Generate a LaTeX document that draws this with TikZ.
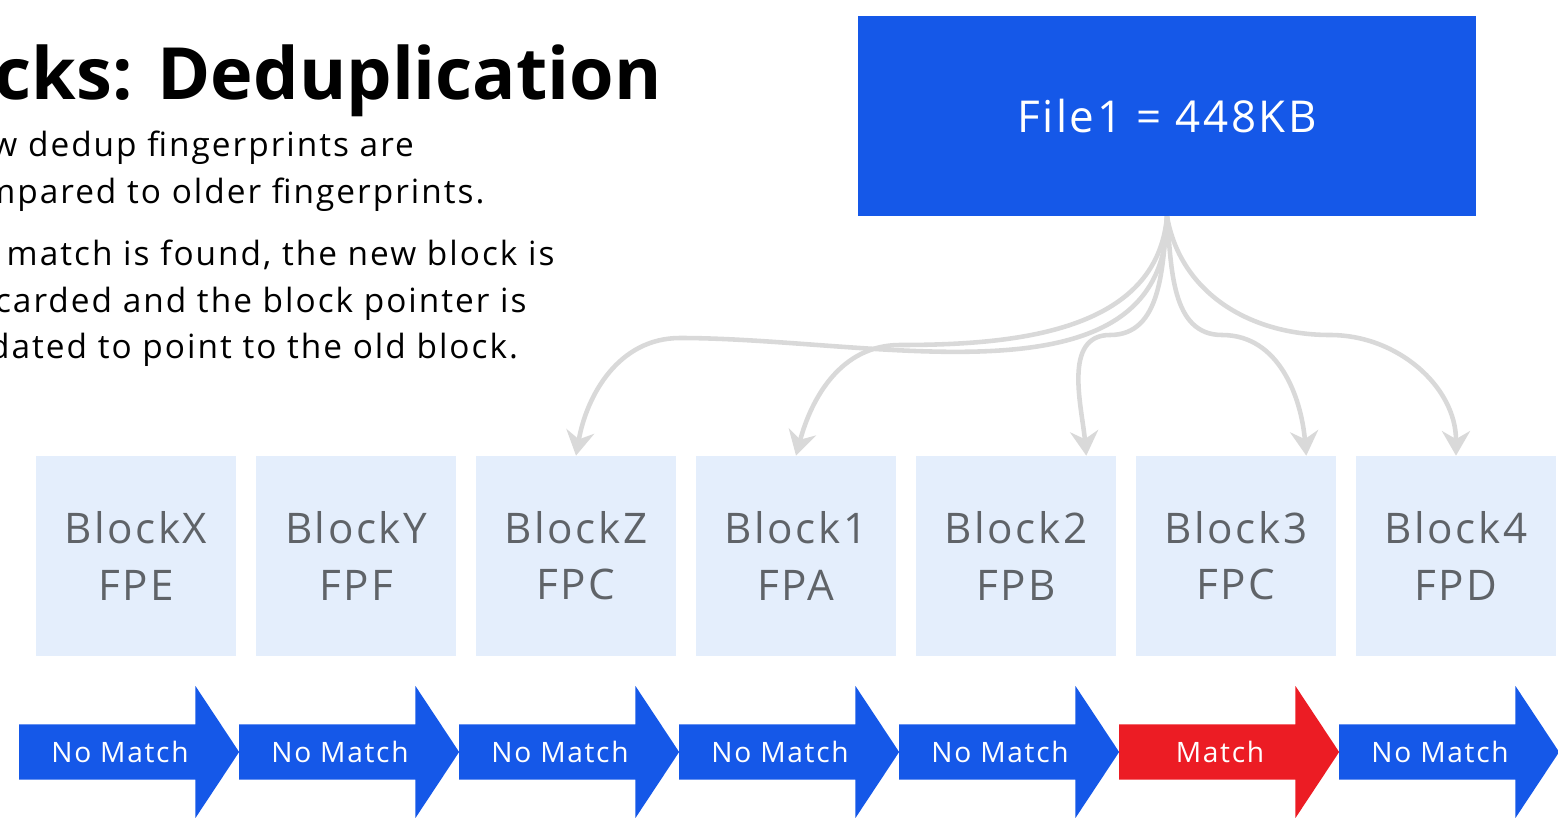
\documentclass[tikz,border=0pt]{standalone}
\usepackage{fontspec}
\setmainfont{Open Sans}[LetterSpace=6]
\usetikzlibrary{arrows.meta,shapes.arrows,positioning}
\definecolor{dblue}{HTML}{1558E8}
\definecolor{dred}{HTML}{EC1C24}
\definecolor{blkfill}{HTML}{E4EEFC}
\definecolor{blktext}{HTML}{5F6368}
\definecolor{link}{HTML}{D9D9D9}

\begin{document}
\begin{tikzpicture}[x=0.02cm,y=-0.02cm,
  block/.style={fill=blkfill,minimum width=4cm,minimum height=4cm,inner sep=0pt,
    align=center,text=blktext,font=\fontsize{24}{32}\selectfont},
  result/.style={single arrow,fill=dblue,minimum width=2.64cm,minimum height=4.4cm,
    single arrow head extend=0.31cm,single arrow tip angle=113,inner sep=0pt,
    text=white,font=\fontsize{16}{18}\selectfont},
  link/.style={draw=link,line width=2.6pt,-{Stealth[length=14pt,width=16pt]}}]
  \useasboundingbox (0,0) rectangle (1558,838);
  \clip (0,0) rectangle (1558,838);

  % heading and notes
  \node[anchor=base east,font=\fontsize{41}{48}\selectfont\bfseries\addfontfeatures{LetterSpace=0}] (title) at (668,100) {Blocks: Deduplication};
  \node[anchor=north west,align=left,font=\fontsize{19}{26.5}\selectfont] (notes) at (-62,125)
    {New dedup fingerprints are\\compared to older fingerprints.\\[9pt]
     If a match is found, the new block is\\discarded and the block pointer is\\updated to point to the old block.};

  % file
  \node[fill=dblue,text=white,minimum width=12.36cm,minimum height=4cm,
    font=\fontsize{25}{30}\selectfont] (file) at (1167,116) {File1 = 448KB};

  % blocks
  \foreach \name/\fp [count=\i from 0] in {X/FPE,Y/FPF,Z/FPC,1/FPA,2/FPB,3/FPC,4/FPD}
    \node[block] (b\name) at (136+220*\i,556) {Block\name\\\fp};

  % match results
  \foreach \res/\col [count=\i from 0] in {No Match/dblue,No Match/dblue,No Match/dblue,
      No Match/dblue,No Match/dblue,Match/dred,No Match/dblue}
    \node[result,fill=\col] (m\i) at (120+220*\i,752) {\res};

  % pointers
  \draw[link] (file.south) to[out=-90,in=0] (680,338) to[out=180,in=80] (bZ.north);
  \draw[link] (file.south) to[out=-95,in=0] (900,345) to[out=180,in=75] (b1.north);
  \draw[link] (file.south) to[out=-95,in=0] (1110,335) to[out=180,in=95] ([xshift=40]b2.north);
  \draw[link] (file.south) to[out=-85,in=180] (1222,335) to[out=0,in=95] ([xshift=40]b3.north);
  \draw[link] (file.south) to[out=-80,in=180] (1330,335) to[out=0,in=90] (b4.north);
\end{tikzpicture}
\end{document}
